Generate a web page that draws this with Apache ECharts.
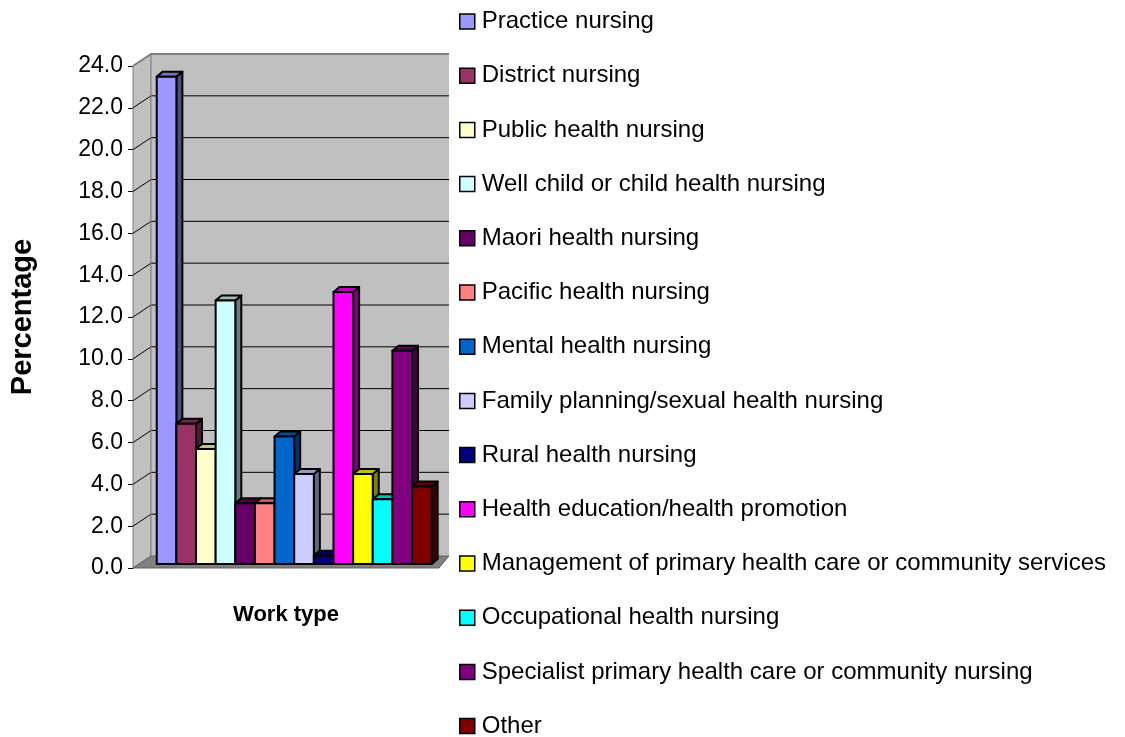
<!DOCTYPE html>
<html>
<head>
<meta charset="utf-8">
<script src="https://cdn.jsdelivr.net/npm/echarts@6/dist/echarts.min.js"></script>
<style>
  html, body { margin: 0; padding: 0; background: #ffffff; }
  #chart { width: 1125px; height: 737px; }
</style>
</head>
<body>
<div id="chart"></div>
<script>
const categories = ['Work type'];
const seriesNames = [
  'Practice nursing',
  'District nursing',
  'Public health nursing',
  'Well child or child health nursing',
  'Maori health nursing',
  'Pacific health nursing',
  'Mental health nursing',
  'Family planning/sexual health nursing',
  'Rural health nursing',
  'Health education/health promotion',
  'Management of primary health care or community services',
  'Occupational health nursing',
  'Specialist primary health care or community nursing',
  'Other'
];
const values = [23.3, 6.7, 5.5, 12.6, 2.9, 2.9, 6.1, 4.3, 0.4, 13.0, 4.3, 3.1, 10.2, 3.7];
const colors = [
  '#9999FF', '#993366', '#FFFFCC', '#CCFFFF', '#660066', '#FF8080', '#0066CC',
  '#CCCCFF', '#000080', '#FF00FF', '#FFFF00', '#00FFFF', '#800080', '#800000'
];
const yMin = 0, yMax = 24, yInterval = 2;
const gridValues = [2, 4, 6, 8, 10, 12, 14, 16, 18, 20, 22];

const FONT = '"Liberation Sans", Arial, sans-serif';
const WALL_D = [18, -12];   // depth offset of back wall
const BAR_OFF = [6, -4];    // offset of bar front plane
const BAR_D = [6, -5];      // bar depth

function shade(hex, f) {
  const n = parseInt(hex.slice(1), 16);
  const r = Math.round(((n >> 16) & 255) * f);
  const g = Math.round(((n >> 8) & 255) * f);
  const b = Math.round((n & 255) * f);
  return 'rgb(' + r + ',' + g + ',' + b + ')';
}

function renderWalls(params, api) {
  const p0 = api.coord([0, yMin]);
  const bw = api.size([1, 0])[0];
  const xl = p0[0] - bw / 2, xr = p0[0] + bw / 2;
  const y0 = p0[1];
  const yTop = api.coord([0, yMax])[1];
  const dx = WALL_D[0], dy = WALL_D[1];
  const children = [];
  children.push({ type: 'polygon', shape: { points: [[xl, y0], [xl, yTop], [xl + dx, yTop + dy], [xl + dx, y0 + dy]] },
    style: { fill: '#C0C0C0', stroke: '#808080', lineWidth: 1 } });
  children.push({ type: 'rect', shape: { x: xl + dx, y: yTop + dy, width: bw, height: y0 - yTop },
    style: { fill: '#C0C0C0' } });
  children.push({ type: 'polygon', shape: { points: [[xl, y0], [xl + dx, y0 + dy], [xr + dx, y0 + dy], [xr + 8, y0]] },
    style: { fill: '#808080', stroke: '#606060', lineWidth: 1 } });
  gridValues.forEach(function (v) {
    const y = api.coord([0, v])[1];
    children.push({ type: 'polyline', shape: { points: [[xl, y], [xl + dx, y + dy], [xr + dx, y + dy]] },
      style: { stroke: '#000', lineWidth: 1, fill: null } });
  });
  children.push({ type: 'polyline', shape: { points: [[xl, yTop], [xl + dx, yTop + dy], [xr + dx, yTop + dy]] },
    style: { stroke: '#808080', lineWidth: 2, fill: null } });
  children.push({ type: 'line', shape: { x1: xl + dx, y1: yTop + dy, x2: xl + dx, y2: y0 + dy },
    style: { stroke: '#808080', lineWidth: 1 } });
  return { type: 'group', children: children };
}

function makeBarRenderer(idx) {
  return function (params, api) {
    const base = api.coord([0, yMin]);
    const top = api.coord([0, api.value(1)]);
    const bw = api.size([1, 0])[0];
    const xl = base[0] - bw / 2;
    const w = bw * 0.0659;
    const x = xl + bw * 0.0595 + BAR_OFF[0] + idx * w;
    const yb = base[1] + BAR_OFF[1];
    const yt = top[1] + BAR_OFF[1];
    const dx = BAR_D[0], dy = BAR_D[1];
    const c = colors[idx];
    const st = { stroke: '#000', lineWidth: 2, lineJoin: 'round' };
    return {
      type: 'group',
      children: [
        { type: 'polygon', shape: { points: [[x + w, yb], [x + w, yt], [x + w + dx, yt + dy], [x + w + dx, yb + dy]] },
          style: Object.assign({ fill: shade(c, 0.5) }, st) },
        { type: 'polygon', shape: { points: [[x, yt], [x + dx, yt + dy], [x + w + dx, yt + dy], [x + w, yt]] },
          style: Object.assign({ fill: shade(c, 0.75) }, st) },
        { type: 'rect', shape: { x: x, y: yt, width: w, height: yb - yt },
          style: Object.assign({ fill: c }, st) }
      ]
    };
  };
}

const series = [{
  type: 'custom',
  name: '__walls',
  silent: true,
  z: 1,
  renderItem: renderWalls,
  data: [[0, 0]],
  encode: { x: 0, y: 1 }
}];
seriesNames.forEach(function (name, i) {
  series.push({
    type: 'custom',
    name: name,
    z: 2,
    renderItem: makeBarRenderer(i),
    itemStyle: { color: colors[i], borderColor: '#000', borderWidth: 1 },
    data: [[0, values[i]]],
    encode: { x: 0, y: 1 }
  });
});

const chart = echarts.init(document.getElementById('chart'), null, { renderer: 'canvas' });
chart.setOption({
  animation: false,
  backgroundColor: '#ffffff',
  textStyle: { fontFamily: FONT },
  grid: { left: 133, right: 694, top: 66, bottom: 169, containLabel: false },
  legend: {
    orient: 'vertical',
    left: 459,
    top: 9,
    height: 800,
    padding: 0,
    data: seriesNames,
    icon: 'rect',
    itemWidth: 15,
    itemHeight: 15,
    itemGap: 29.2,
    itemStyle: { borderColor: '#000', borderWidth: 1.5 },
    textStyle: { fontSize: 24, color: '#000', fontFamily: FONT, lineHeight: 25, padding: [0, 0, 0, 2] },
    selectedMode: false
  },
  xAxis: {
    type: 'category',
    data: categories,
    axisLine: { show: false },
    axisTick: { show: false },
    axisLabel: { fontSize: 22, fontWeight: 'bold', color: '#000', fontFamily: FONT, margin: 36,
      padding: [0, 0, 0, 8] }
  },
  yAxis: {
    type: 'value',
    min: yMin,
    max: yMax,
    interval: yInterval,
    name: 'Percentage',
    nameLocation: 'middle',
    nameRotate: 90,
    nameGap: 96,
    nameTextStyle: { fontSize: 29, fontWeight: 'bold', color: '#000', fontFamily: FONT },
    axisLine: { show: true, lineStyle: { color: '#808080', width: 1 } },
    axisTick: { show: true, length: 5, lineStyle: { color: '#000' } },
    splitLine: { show: false },
    axisLabel: { fontSize: 23, color: '#000', fontFamily: FONT, margin: 10,
      formatter: function (v) { return v.toFixed(1); } }
  },
  series: series
});
</script>
</body>
</html>
